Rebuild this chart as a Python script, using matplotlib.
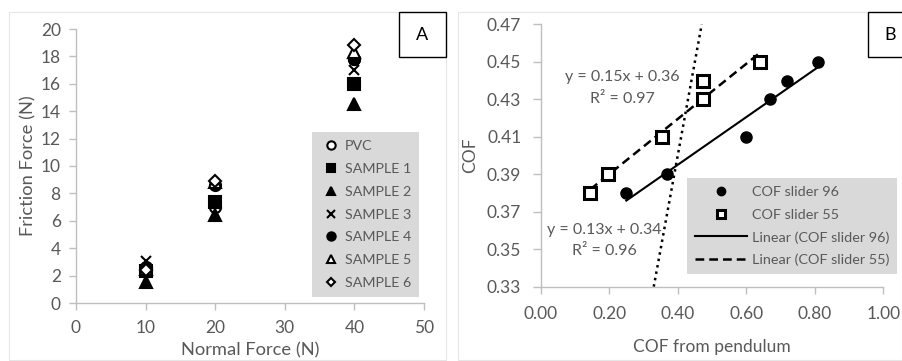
import matplotlib
matplotlib.use("Agg")
import matplotlib.pyplot as plt
import numpy as np
from matplotlib.patches import Rectangle

plt.rcParams['font.family'] = ['Lato', 'DejaVu Sans']

GRAY = '#595959'
AX = '#bfbfbf'

# Panel A data
normal_force = [10, 20, 40]
samples = ['PVC', 'SAMPLE 1', 'SAMPLE 2', 'SAMPLE 3', 'SAMPLE 4', 'SAMPLE 5', 'SAMPLE 6']
friction = {
    'PVC':      [2.5, 7.0, 17.8],
    'SAMPLE 1': [2.3, 7.4, 16.0],
    'SAMPLE 2': [1.5, 6.4, 14.5],
    'SAMPLE 3': [3.1, 7.2, 17.0],
    'SAMPLE 4': [2.6, 8.6, 17.8],
    'SAMPLE 5': [2.5, 8.8, 18.3],
    'SAMPLE 6': [2.4, 8.9, 18.8],
}
markers = {
    'PVC': ('o', 'white'), 'SAMPLE 1': ('s', 'black'), 'SAMPLE 2': ('^', 'black'),
    'SAMPLE 3': ('x', 'black'), 'SAMPLE 4': ('o', 'black'), 'SAMPLE 5': ('^', 'white'),
    'SAMPLE 6': ('D', 'white'),
}

# Panel B data
pend_96 = [0.25, 0.37, 0.60, 0.67, 0.72, 0.81]
cof_96 = [0.38, 0.39, 0.41, 0.43, 0.44, 0.45]
pend_55 = [0.145, 0.195, 0.355, 0.475, 0.475, 0.64]
cof_55 = [0.38, 0.39, 0.41, 0.44, 0.43, 0.45]
eq_96 = ['y = 0.13x + 0.34', 'R² = 0.96']
eq_55 = ['y = 0.15x + 0.36', 'R² = 0.97']
unity = [0.33, 0.47]

fig = plt.figure(figsize=(9.03, 3.61), dpi=100)

def style(ax):
    for s in ['top', 'right']:
        ax.spines[s].set_visible(False)
    for s in ['left', 'bottom']:
        ax.spines[s].set_color(AX)
        ax.spines[s].set_linewidth(1.0)
    ax.tick_params(colors=AX, labelcolor=GRAY, length=5, width=1.0)

def gray_legend(leg):
    fr = leg.get_frame()
    fr.set_facecolor('#d9d9d9')
    fr.set_edgecolor('none')
    fr.set_boxstyle('square', pad=0)
    fr.set_alpha(1)
    for t in leg.get_texts():
        t.set_color(GRAY)

# chart-area borders
fig.patches.append(Rectangle((9/903, 1-360/361), 437/903, 348/361, transform=fig.transFigure,
                             fill=False, edgecolor='#e6e6e6', lw=0.8))
fig.patches.append(Rectangle((458/903, 1-360/361), 444/903, 348/361, transform=fig.transFigure,
                             fill=False, edgecolor='#e6e6e6', lw=0.8))

# ---- Panel A ----
axA = fig.add_axes([76/903, 1-303/361, 348/903, 274/361])
style(axA)
for s in samples:
    m, fc = markers[s]
    if m == 'x':
        axA.plot(normal_force, friction[s], ls='none', marker='x', color='black', ms=7, mew=1.5, label=s)
    else:
        ms = 6 if m == 'D' else 8
        axA.plot(normal_force, friction[s], ls='none', marker=m, mfc=fc, mec='black', mew=1.5, ms=ms, label=s)
axA.set_xlim(0, 50)
axA.set_ylim(0, 20)
axA.set_xticks(range(0, 51, 10))
axA.set_yticks(range(0, 21, 2))
axA.tick_params(labelsize=12.5)
axA.tick_params(axis='x', pad=7)
axA.tick_params(axis='y', pad=6)
axA.set_xlabel('Normal Force (N)', color=GRAY, fontsize=13.2, labelpad=5)
axA.set_ylabel('Friction Force (N)', color=GRAY, fontsize=13.2, labelpad=3)
legA = axA.legend(loc='upper left', bbox_to_anchor=((312-76)/348, (303-132)/274), frameon=True,
                  fontsize=10.3, handlelength=1.6, handletextpad=0.15, labelspacing=0.76,
                  borderpad=0.55, borderaxespad=0, markerscale=0.75)
gray_legend(legA)

fig.patches.append(Rectangle((399/903, 1-57/361), 47/903, 45/361, transform=fig.transFigure,
                             fill=True, facecolor='white', edgecolor='black', lw=1))
fig.text(422.5/903, 1-34.5/361, 'A', ha='center', va='center', fontsize=13, color='black')

# ---- Panel B ----
axB = fig.add_axes([540.7/903, 1-286.7/361, 342.6/903, 262.4/361])
style(axB)
axB.set_xlim(0, 1.0)
axB.set_ylim(0.33, 0.47)
axB.set_xticks(np.arange(0, 1.01, 0.2))
axB.set_yticks(np.arange(0.33, 0.471, 0.02))
axB.xaxis.set_major_formatter(matplotlib.ticker.FormatStrFormatter('%.2f'))
axB.yaxis.set_major_formatter(matplotlib.ticker.FormatStrFormatter('%.2f'))
axB.tick_params(labelsize=12.5)
axB.tick_params(axis='y', length=6, pad=8)
axB.tick_params(axis='x', length=5, pad=9)

axB.plot(unity, unity, color='black', ls=(0, (1, 1.6)), lw=1.8)

p96 = np.polyfit(pend_96, cof_96, 1)
p55 = np.polyfit(pend_55, cof_55, 1)
x96 = np.array([min(pend_96), max(pend_96)])
x55 = np.array([min(pend_55), max(pend_55)])
axB.plot(x96, np.polyval(p96, x96), color='black', lw=1.5, label='Linear (COF slider 96)')
axB.plot(x55, np.polyval(p55, x55), color='black', lw=1.8, ls=(0, (3.5, 2)), label='Linear (COF slider 55)')
axB.plot(pend_96, cof_96, ls='none', marker='o', mfc='black', mec='black', ms=8, label='COF slider 96')
axB.plot(pend_55, cof_55, ls='none', marker='s', mfc='white', mec='black', mew=2.2, ms=8, label='COF slider 55')

for txt, yy, xx in [(eq_55[0], 77, 622), (eq_55[1], 99, 622), (eq_96[0], 230, 604), (eq_96[1], 251, 604)]:
    fig.text(xx/903, 1-yy/361, txt, ha='center', va='center', fontsize=11.5, color=GRAY)

axB.set_xlabel('COF from pendulum', color=GRAY, fontsize=12.5, labelpad=12)
axB.set_ylabel('COF', color=GRAY, fontsize=12.5, labelpad=6)

h, l = axB.get_legend_handles_labels()
order = [2, 3, 0, 1]
legB = axB.legend([h[i] for i in order], [l[i] for i in order], loc='upper left',
                  bbox_to_anchor=((687-540.7)/342.6, (286.7-178)/262.4), frameon=True,
                  fontsize=10.4, handlelength=3.6, handletextpad=0.35, labelspacing=0.72,
                  borderpad=0.55, borderaxespad=0, markerscale=0.75)
gray_legend(legB)

fig.patches.append(Rectangle((868/903, 1-57/361), 40/903, 45/361, transform=fig.transFigure,
                             fill=True, facecolor='white', edgecolor='black', lw=1, zorder=5))
fig.text(890/903, 1-34.5/361, 'B', ha='center', va='center', fontsize=13, color='black', zorder=6)

fig.savefig('out.png', dpi=100)
